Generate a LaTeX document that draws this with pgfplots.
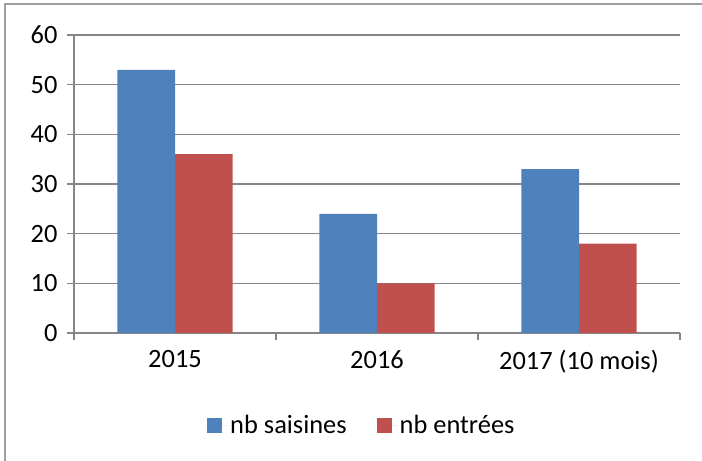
\documentclass[border=0pt]{standalone}
\usepackage{fontspec}
\setmainfont{Carlito}
\usepackage{pgfplots}
\pgfplotsset{compat=1.18}
\definecolor{xlblue}{RGB}{79,129,189}
\definecolor{xlred}{RGB}{192,80,77}
\definecolor{axgray}{RGB}{134,134,134}
\definecolor{framegray}{RGB}{160,160,160}
\begin{document}
\begin{tikzpicture}
\useasboundingbox (0,0) rectangle (702bp,461bp);
\draw[framegray, line width=1.5bp] (5bp,0) -- (5bp,457bp) -- (702bp,457bp);
\begin{axis}[
    at={(74bp,128bp)}, anchor=south west,
    scale only axis,
    width=606bp, height=298bp,
    ybar=0pt,
    bar width=0.2857,
    xmin=-0.5, xmax=2.5,
    ymin=0, ymax=60,
    ytick={0,10,...,60},
    xtick={0,1,2},
    xticklabels={2015,2016,2017 (10 mois)},
    minor xtick={-0.5,0.5,1.5,2.5},
    axis x line*=bottom,
    axis y line*=left,
    axis line style={axgray, line width=1.2bp, -},
    ymajorgrids,
    grid style={axgray, line width=1.2bp},
    major x tick style={draw=none},
    minor x tick style={axgray, line width=1.2bp},
    major y tick style={axgray, line width=1.2bp},
    tick align=outside,
    major tick length=7bp,
    minor tick length=7bp,
    ticklabel style={font=\fontsize{26.5}{30}\selectfont},
    /pgf/number format/assume math mode=true,
    yticklabel style={xshift=-6bp},
    xticklabel style={yshift=-7bp},
    legend style={at={(0.475,-0.31)}, anchor=center, draw=none,
        legend columns=2, font=\fontsize{26.5}{30}\selectfont,
        /tikz/every even column/.append style={column sep=28bp}},
    legend image code/.code={\fill[#1] (0bp,-7.5bp) rectangle (15bp,7.5bp);
        \path (0bp,0bp) -- (21bp,0bp);},
]
\addplot[fill=xlblue, draw=none] coordinates {(0,53) (1,24) (2,33)};
\addlegendentry{nb saisines}
\addplot[fill=xlred, draw=none] coordinates {(0,36) (1,10) (2,18)};
\addlegendentry{nb entrées}
\end{axis}
\end{tikzpicture}
\end{document}
